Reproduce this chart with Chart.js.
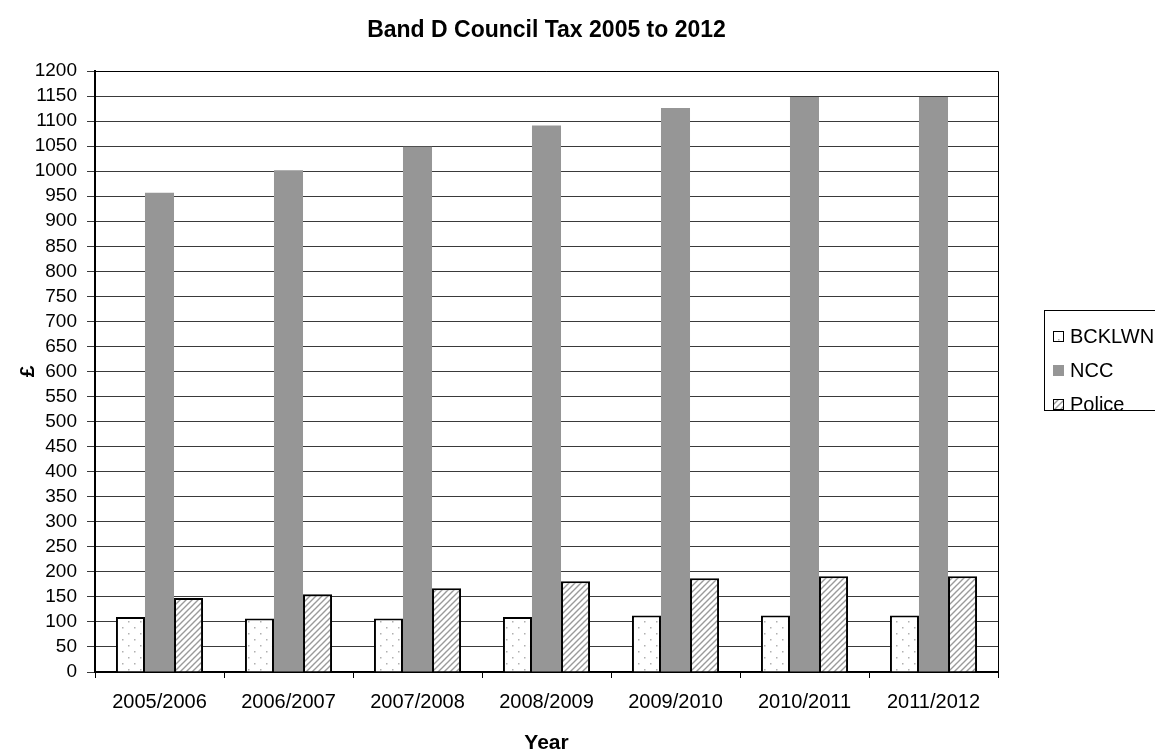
<!DOCTYPE html>
<html>
<head>
<meta charset="utf-8">
<style>
  html, body { margin: 0; padding: 0; background: #fff; }
  #wrap { width: 1155px; height: 756px; overflow: hidden; }
</style>
<script src="https://cdn.jsdelivr.net/npm/chart.js@4.4.0/dist/chart.umd.min.js"></script>
</head>
<body>
<div id="wrap"><canvas id="chart" width="1155" height="756"></canvas></div>
<script>
const titleText = "Band D Council Tax 2005 to 2012";
const years = ["2005/2006", "2006/2007", "2007/2008", "2008/2009", "2009/2010", "2010/2011", "2011/2012"];
const bcklwn = [110, 107, 107, 110, 113, 113, 113];
const ncc = [957, 1002, 1049, 1091, 1126, 1148, 1148];
const police = [148, 155, 167, 181, 187, 191, 191];
const seriesNames = ["BCKLWN", "NCC", "Police"];

const FONT = "'Liberation Sans', Arial, sans-serif";

function makeDots() {
    const c = document.createElement("canvas");
    c.width = 12; c.height = 12;
    const g = c.getContext("2d");
    g.fillStyle = "#fff";
    g.fillRect(0, 0, 12, 12);
    g.fillStyle = "#b0b0b0";
    g.fillRect(2, 3, 1.5, 1.5);
    g.fillRect(8, 9, 1.5, 1.5);
    return g.createPattern(c, "repeat");
}

function makeHatch() {
    const s = 6;
    const c = document.createElement("canvas");
    c.width = s; c.height = s;
    const g = c.getContext("2d");
    g.fillStyle = "#fff";
    g.fillRect(0, 0, s, s);
    g.strokeStyle = "#9a9a9a";
    g.lineWidth = 1.4;
    g.beginPath();
    g.moveTo(0, s); g.lineTo(s, 0);
    g.moveTo(-s / 2, s / 2); g.lineTo(s / 2, -s / 2);
    g.moveTo(s / 2, s * 1.5); g.lineTo(s * 1.5, s / 2);
    g.stroke();
    return g.createPattern(c, "repeat");
}

const dots = makeDots();
const hatch = makeHatch();

const frameAndTitle = {
    id: "frameAndTitle",
    afterDraw(chart) {
        const ctx = chart.ctx;
        const a = chart.chartArea;
        ctx.save();
        ctx.strokeStyle = "#000";
        ctx.lineWidth = 1;
        ctx.beginPath();
        ctx.moveTo(a.left, a.top + 0.5);
        ctx.lineTo(a.right + 0.5, a.top + 0.5);
        ctx.lineTo(a.right + 0.5, a.bottom);
        ctx.stroke();

        ctx.fillStyle = "#000";
        ctx.font = "bold 23px " + FONT;
        ctx.textAlign = "center";
        ctx.textBaseline = "middle";
        ctx.fillText(titleText, (a.left + a.right) / 2, 31);

        // legend box
        const lx = 1044, ly = 310, lw = 130, lh = 100;
        ctx.strokeRect(lx + 0.5, ly + 0.5, lw, lh);
        ctx.font = "20px " + FONT;
        ctx.textAlign = "left";
        chart.data.datasets.forEach(function (ds, i) {
            const cy = ly + 26 + i * 34;
            ctx.fillStyle = ds.backgroundColor;
            ctx.fillRect(lx + 9, cy - 5, 11, 11);
            if (ds.borderWidth) {
                ctx.strokeStyle = "#000";
                ctx.lineWidth = 1;
                ctx.strokeRect(lx + 9.5, cy - 4.5, 10, 10);
            }
            ctx.fillStyle = "#000";
            ctx.fillText(ds.label, lx + 26, cy + 1);
        });
        ctx.restore();
    }
};

new Chart(document.getElementById("chart"), {
    type: "bar",
    data: {
        labels: years,
        datasets: [
            { label: seriesNames[0], data: bcklwn, backgroundColor: dots, borderColor: "#000", borderWidth: 2, borderSkipped: "bottom" },
            { label: seriesNames[1], data: ncc, backgroundColor: "#969696", borderWidth: 0 },
            { label: seriesNames[2], data: police, backgroundColor: hatch, borderColor: "#000", borderWidth: 2, borderSkipped: "bottom" }
        ]
    },
    options: {
        responsive: false,
        animation: false,
        devicePixelRatio: 1,
        layout: { padding: { top: 71, right: 157, left: 0, bottom: 0 } },
        datasets: { bar: { categoryPercentage: 0.675, barPercentage: 1.0 } },
        plugins: {
            legend: { display: false },
            title: { display: false },
            tooltip: { enabled: false }
        },
        scales: {
            x: {
                afterFit: function (s) { s.height = 84; },
                grid: { offset: true, drawOnChartArea: false, tickLength: 6, color: "#000", lineWidth: 1 },
                border: { color: "#000", width: 2 },
                ticks: { color: "#000", padding: 12, font: { family: FONT, size: 20 }, maxRotation: 0 },
                title: { display: true, text: "Year", color: "#000", padding: 0, font: { family: FONT, size: 21, weight: "bold" } }
            },
            y: {
                min: 0,
                max: 1200,
                afterFit: function (s) { s.width = 95; },
                grid: { color: "#3a3a3a", lineWidth: 1, tickLength: 8 },
                border: { color: "#000", width: 2 },
                ticks: {
                    stepSize: 50, autoSkip: false, color: "#000", padding: 10, font: { family: FONT, size: 19 },
                    callback: function (v) { return String(v); }
                },
                title: { display: true, text: "£", color: "#000", padding: { top: 16, bottom: 0 }, font: { family: FONT, size: 21, weight: "bold" } }
            }
        }
    },
    plugins: [frameAndTitle]
});
</script>
</body>
</html>
